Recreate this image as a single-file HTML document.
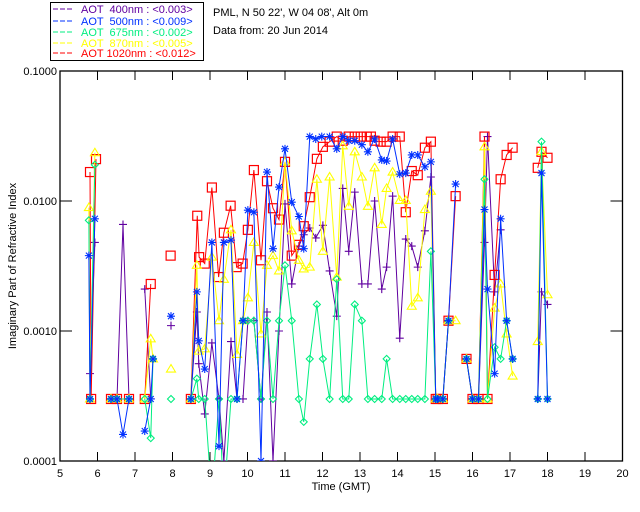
<!DOCTYPE html>
<html><head><meta charset="utf-8"><style>
body{margin:0;background:#fff;}
svg{display:block;font-family:"Liberation Sans","DejaVu Sans",sans-serif;}
</style></head><body>
<svg id="chart" width="640" height="512" viewBox="0 0 640 512" xmlns="http://www.w3.org/2000/svg">
<rect width="640" height="512" fill="#fff"/>
<g font-size="11" xml:space="preserve">
<rect x="50.5" y="2.5" width="153" height="58" fill="none" stroke="#000"/>
<g><line x1="53" y1="9" x2="74" y2="9" stroke="#6000a0" stroke-dasharray="5,2"/><text x="81" y="13" fill="#6000a0" xml:space="preserve">AOT  400nm : &lt;0.003&gt;</text></g>
<g><line x1="53" y1="21" x2="74" y2="21" stroke="#0030ff" stroke-dasharray="5,2"/><text x="81" y="25" fill="#0030ff" xml:space="preserve">AOT  500nm : &lt;0.009&gt;</text></g>
<g><line x1="53" y1="32" x2="74" y2="32" stroke="#00ee80" stroke-dasharray="5,2"/><text x="81" y="36" fill="#00ee80" xml:space="preserve">AOT  675nm : &lt;0.002&gt;</text></g>
<g><line x1="53" y1="43" x2="74" y2="43" stroke="#ffff00" stroke-dasharray="5,2"/><text x="81" y="47" fill="#ffff00" xml:space="preserve">AOT  870nm : &lt;0.005&gt;</text></g>
<g><line x1="53" y1="53" x2="74" y2="53" stroke="#ff0000" stroke-dasharray="5,2"/><text x="81" y="57" fill="#ff0000" xml:space="preserve">AOT 1020nm : &lt;0.012&gt;</text></g>
</g>
<text x="213" y="16" font-size="11">PML, N 50 22', W 04 08', Alt 0m</text>
<text x="213" y="34" font-size="11">Data from: 20 Jun 2014</text>
<text x="341" y="490" font-size="11" text-anchor="middle">Time (GMT)</text>
<text transform="translate(16,266) rotate(-90)" font-size="11" text-anchor="middle">Imaginary Part of Refractive Index</text>
<defs><clipPath id="pc"><rect x="60" y="71" width="563" height="390"/></clipPath></defs>
<g id="axes"></g>
<g id="plot" clip-path="url(#pc)"></g>
</svg>
<script>
const xTicks=[5,6,7,8,9,10,11,12,13,14,15,16,17,18,19,20];
const yTicks=[0.0001,0.001,0.01,0.1];
const yTickLabels=["0.0001","0.0010","0.0100","0.1000"];
const N=null;
const t400=[5.80,5.93,N,6.36,6.52,6.68,6.84,N,7.26,7.42,N,7.96,N,8.49,8.65,8.70,8.86,9.05,9.24,9.37,9.56,9.72,9.88,10.01,10.17,10.36,10.52,10.68,10.84,11.00,11.18,11.37,11.50,11.66,11.82,12.01,12.19,12.38,12.54,12.70,12.86,13.05,13.21,13.39,13.58,13.71,13.87,14.06,14.22,14.38,14.54,14.73,14.89,15.02,15.07,15.21,15.36,N,15.84,16.00,16.16,16.32,16.40,16.59,16.75,N,17.74,17.84,18.00];
const v400=[.00047,.0048,N,.0003,.0003,.0066,.0003,N,.0021,.0003,N,.0011,N,.0003,.0014,.00056,.00023,.00081,.0003,.0001,.00083,.0003,.0003,.0012,.0012,.0003,.0014,.0001,.0010,.0095,.0023,.0045,.0055,.0062,.0052,.0065,.0029,.0013,.0125,.0041,.0117,.0023,.0023,.0100,.0021,.0031,.0109,.00088,.0051,.0045,.0031,.0059,.0153,.0003,.0003,.0003,.0012,N,.00061,.0003,.0003,.0048,.0313,.0020,.0060,N,.0003,.0020,.0016];
const t500=[5.77,5.80,5.93,N,6.36,6.52,6.68,6.84,N,7.26,7.42,7.48,N,7.96,N,8.49,8.65,8.70,8.86,9.05,9.24,9.37,9.56,9.72,9.88,10.01,10.17,10.36,10.52,10.68,10.84,11.00,11.18,11.37,11.50,11.66,11.82,11.98,12.19,12.38,12.54,12.70,12.86,13.05,13.21,13.39,13.58,13.71,13.87,14.06,14.22,14.38,14.54,14.73,14.89,15.02,15.07,15.21,15.36,15.55,N,15.84,16.00,16.16,16.32,16.40,16.59,16.75,16.91,17.07,N,17.74,17.84,18.00];
const v500=[.0038,.0003,.0073,N,.0003,.0003,.00016,.0003,N,.00017,.0003,.00061,N,.0013,N,.0003,.0020,.00084,.00051,.0048,.00013,.0048,.0050,.0003,.0012,.0085,.0082,.0001,.0167,.0043,.0128,.0252,.0098,.0076,.0043,.0313,.030,.0313,.0313,.0252,.0313,.0291,.0291,.0271,.0239,.030,.0207,.0203,.030,.0161,.0164,.0226,.0226,.0183,.020,.0003,.0003,.0003,.0012,.0135,N,.00061,.0003,.0003,.0086,.0021,.00047,.0073,.0012,.00061,N,.0003,.0164,.0003];
const t675=[5.77,5.80,5.93,N,6.36,6.52,6.84,N,7.26,7.42,7.48,N,7.96,N,8.49,8.65,8.70,8.86,9.05,9.24,9.37,9.56,9.72,9.88,10.01,10.17,10.36,10.52,10.68,10.84,11.00,11.18,11.37,11.50,11.66,11.85,12.01,12.19,12.38,12.54,12.70,12.86,13.05,13.21,13.39,13.58,13.71,13.87,14.06,14.22,14.38,14.54,14.73,14.89,15.02,15.07,15.21,15.36,N,15.84,16.00,16.16,16.32,16.40,16.59,16.75,16.91,17.07,N,17.74,17.84,18.00];
const v675=[.0071,.0003,.019,N,.0003,.0003,.0003,N,.0003,.00015,.00061,N,.0003,N,.0003,.00043,.0003,.0003,.00005,.0003,.00005,.0003,.0003,.0012,.0012,.0012,.0003,.0012,.0003,.0012,.0032,.0012,.0003,.0002,.00061,.0016,.00061,.0003,.0025,.0003,.0003,.0016,.0012,.0003,.0003,.0003,.00061,.0003,.0003,.0003,.0003,.0003,.0003,.0041,.0003,.0003,.0003,.0012,N,.00061,.0003,.0003,.0147,.0003,.00075,.00061,.0012,.00061,N,.0003,.0286,.0003];
const t870=[5.77,5.80,5.93,N,6.36,6.52,6.84,N,7.26,7.42,7.48,N,7.96,N,8.49,8.65,8.70,8.86,9.05,9.24,9.37,9.56,9.72,9.88,10.01,10.17,10.36,10.52,10.68,10.84,11.00,11.18,11.37,11.50,11.66,11.85,12.01,12.19,12.38,12.54,12.70,12.86,13.05,13.21,13.39,13.58,13.71,13.87,14.06,14.22,14.38,14.54,14.73,14.89,15.02,15.07,15.21,15.36,15.55,N,15.84,16.00,16.16,16.32,16.40,16.59,16.75,16.91,17.07,N,17.74,17.84,18.00];
const v870=[.0089,.0003,.0235,N,.0003,.0003,.0003,N,.0003,.00087,.00061,N,.00051,N,.0003,.0032,.0007,.00073,.0037,.0012,.0025,.0060,.00066,.0012,.0018,.0048,.00095,.0032,.0038,.0029,.020,.0059,.0035,.0030,.0031,.0147,.0041,.0153,.0026,.0266,.0091,.0239,.0153,.0091,.0180,.0066,.0125,.0167,.0101,.0101,.00155,.0018,.0086,.0119,.0003,.0003,.0003,.0012,.0012,N,.00061,.0003,.0003,.0261,.0003,.0015,.0023,.00095,.00045,N,.00083,.024,.0019];
const t1020=[5.80,5.83,5.96,N,6.36,6.52,6.84,N,7.26,7.42,N,7.95,N,8.49,8.66,8.71,8.86,9.05,9.23,9.37,9.55,9.71,9.87,10.01,10.17,10.36,10.52,10.68,10.84,11.00,11.18,11.37,11.50,11.66,11.85,12.01,12.19,12.38,12.54,12.70,12.86,13.02,13.18,13.29,13.39,13.55,13.71,13.87,14.06,14.22,14.38,14.54,14.73,14.89,15.02,15.07,15.21,15.36,15.55,N,15.84,16.00,16.16,16.32,16.40,16.59,16.75,16.91,17.07,N,17.74,17.84,18.00];
const v1020=[.0167,.0003,.021,N,.0003,.0003,.0003,N,.0003,.0023,N,.0038,N,.0003,.0077,.0037,.0033,.0127,.0026,.0057,.0092,.0031,.0033,.0060,.0173,.0035,.0142,.0088,.0072,.0200,.0038,.0046,.0064,.0107,.0211,.0261,.0286,.0313,.0291,.0313,.0313,.0313,.0313,.0313,.0291,.0286,.0286,.0313,.0313,.0082,.0170,.0158,.0257,.0286,.0003,.0003,.0003,.0012,.0109,N,.00061,.0003,.0003,.0313,.0003,.0027,.0147,.0226,.0257,N,.0180,.0239,.0215];

const NS="http://www.w3.org/2000/svg";
const X0=60,PXH=37.5,Y0=71,PXD=130;
function xs(h){return X0+(h-5)*PXH;}
function ys(v){return Y0+(-1-Math.log10(v))*PXD;}
const axes=document.getElementById('axes'),plot=document.getElementById('plot');
function mk(tag,attrs,parent){const e=document.createElementNS(NS,tag);for(const k in attrs)e.setAttribute(k,attrs[k]);parent.appendChild(e);return e;}
const frame=mk('rect',{x:60,y:71,width:562.5,height:390,fill:'none',stroke:'#000','stroke-width':1.3},axes);


xTicks.forEach(h=>{
  const x=xs(h);
  const a=mk('line',{x1:x,y1:461,x2:x,y2:452,stroke:'#000'},axes);
  
  
  const b=mk('line',{x1:x,y1:71,x2:x,y2:80,stroke:'#000'},axes);
  
  
  const t=mk('text',{x:x,y:477,'font-size':11,'text-anchor':'middle'},axes);
  t.textContent=h;
  
  
});
yTicks.forEach((v,i)=>{
  const y=ys(v);
  const a=mk('line',{x1:60,y1:y,x2:72,y2:y,stroke:'#000'},axes);
  
  
  const b=mk('line',{x1:622.5,y1:y,x2:610.5,y2:y,stroke:'#000'},axes);
  
  
  const t=mk('text',{x:57,y:y+4,'font-size':11,'text-anchor':'end'},axes);
  t.textContent=yTickLabels[i];
  
  
});
function marker(kind,x,y,c,g){
  let d='';
  if(kind==='sq') return mk('rect',{x:x-4.5,y:y-4.5,width:9,height:9,fill:'none',stroke:c,'stroke-width':1.2},g);
  if(kind==='plus') d=`M${x-4},${y}H${x+4}M${x},${y-4}V${y+4}`;
  if(kind==='star') d=`M${x-4},${y}H${x+4}M${x},${y-4}V${y+4}M${x-3},${y-3}L${x+3},${y+3}M${x-3},${y+3}L${x+3},${y-3}`;
  if(kind==='dia') d=`M${x},${y-3.5}L${x+3.5},${y}L${x},${y+3.5}L${x-3.5},${y}Z`;
  if(kind==='tri') d=`M${x},${y-4.5}L${x+4.5},${y+3}L${x-4.5},${y+3}Z`;
  return mk('path',{d:d,fill:'none',stroke:c,'stroke-width':1.1},g);
}
const series=[
 {name:'series-400nm',t:t400,v:v400,c:'#6000a0',m:'plus'},
 {name:'series-1020nm',t:t1020,v:v1020,c:'#ff0000',m:'sq'},
 {name:'series-870nm',t:t870,v:v870,c:'#ffff00',m:'tri'},
 {name:'series-675nm',t:t675,v:v675,c:'#00ee80',m:'dia'},
 {name:'series-500nm',t:t500,v:v500,c:'#0030ff',m:'star'}
];
series.forEach(s=>{
  const g=mk('g',{},plot);
  
  
  let seg=[];
  const flush=()=>{
    if(seg.length>1){
      const pl=mk('polyline',{points:seg.map(p=>p.join(',')).join(' '),fill:'none',stroke:s.c,'stroke-width':1},g);
      
      
    }
    seg=[];
  };
  const pts=[];
  for(let i=0;i<s.t.length;i++){
    if(s.t[i]===null||s.v[i]===null){flush();continue;}
    const p=[xs(s.t[i]),ys(s.v[i])];
    seg.push(p);pts.push(p);
  }
  flush();
  pts.forEach(p=>{
    const mkr=marker(s.m,p[0],p[1],s.c,g);
    
    
  });
});
</script>
</body></html>
